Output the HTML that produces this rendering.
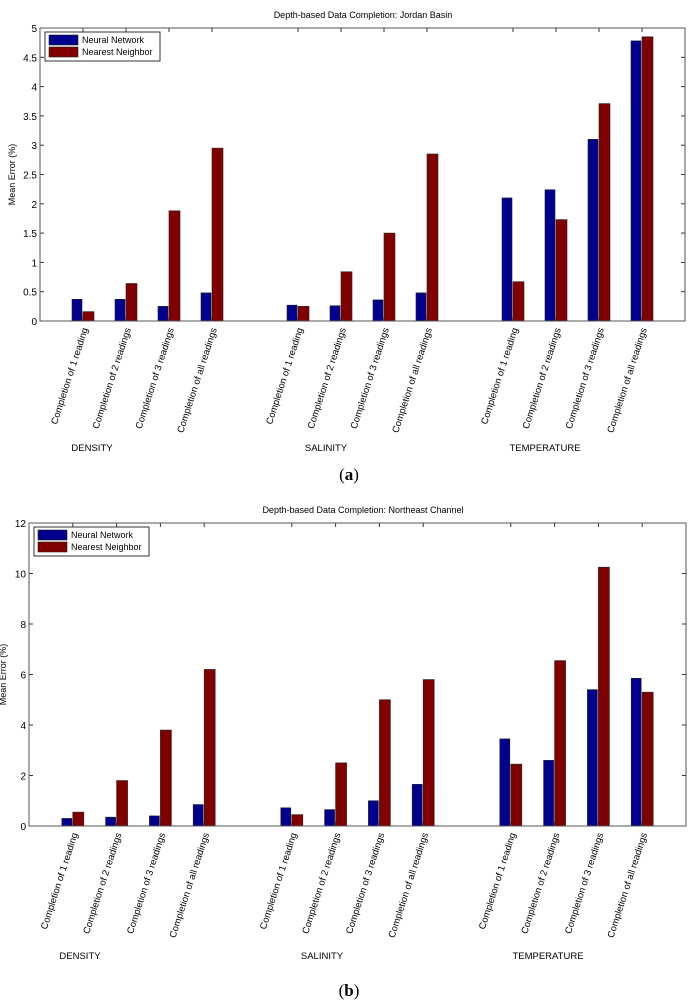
<!DOCTYPE html>
<html><head><meta charset="utf-8"><style>body{margin:0;background:#fff}svg{display:block}text{font-family:"Liberation Sans",sans-serif;fill:#000}</style></head>
<body>
<svg id="s" width="698" height="1000"></svg>
<script>
const categories=["Completion of 1 reading","Completion of 2 readings","Completion of 3 readings","Completion of all readings"];
const groups=["DENSITY","SALINITY","TEMPERATURE"];
const aNeural=[0.37,0.37,0.25,0.48,0.27,0.26,0.36,0.48,2.1,2.24,3.1,4.78];
const aNearest=[0.16,0.64,1.88,2.95,0.25,0.84,1.5,2.85,0.67,1.73,3.71,4.85];
const aTicks=[0,0.5,1,1.5,2,2.5,3,3.5,4,4.5,5];
const bNeural=[0.3,0.35,0.4,0.85,0.72,0.65,1.0,1.65,3.45,2.6,5.4,5.85];
const bNearest=[0.55,1.8,3.8,6.2,0.45,2.5,5.0,5.8,2.45,6.55,10.25,5.3];
const bTicks=[0,2,4,6,8,10,12];
const NS="http://www.w3.org/2000/svg",svg=document.getElementById('s');
function el(t,a,p){const e=document.createElementNS(NS,t);for(const k in a)e.setAttribute(k,a[k]);(p||svg).appendChild(e);return e;}
function chart(c){
 const g=el('g',{});
 
 
 const X=i=>c.x0+(c.x1-c.x0)*i/15, Y=v=>c.y1-(c.y1-c.y0)*v/c.max;
 const t=el('text',{x:363,y:c.y0-10,'font-size':9,'text-anchor':'middle'},g);t.textContent=c.title;
 
 const yt=el('text',{transform:`translate(${c.yl},${(c.y0+c.y1)/2}) rotate(-90)`,'font-size':9,'text-anchor':'middle'},g);yt.textContent="Mean Error (%)";
 
 c.ticks.forEach(v=>{const y=Y(v);
  el('line',{x1:c.x0,x2:c.x0+4,y1:y,y2:y,stroke:'#333'},g);el('line',{x1:c.x1,x2:c.x1-4,y1:y,y2:y,stroke:'#333'},g);
  const l=el('text',{x:c.x0-3,y:y+4,'font-size':10,'text-anchor':'end'},g);l.textContent=v;
  });
 for(let k=0;k<12;k++){const idx=Math.floor(k/4)*5+(k%4)+1,cx=X(idx);
  el('line',{x1:cx,x2:cx,y1:c.y0,y2:c.y0+4,stroke:'#333'},g);el('line',{x1:cx,x2:cx,y1:c.y1,y2:c.y1-4,stroke:'#333'},g);
  const b1=el('rect',{x:cx-11,y:Y(c.nn[k]),width:10,height:Y(0)-Y(c.nn[k]),fill:'#00008f',stroke:'#222','stroke-width':0.6},g);
  
  const b2=el('rect',{x:cx,y:Y(c.nb[k]),width:11,height:Y(0)-Y(c.nb[k]),fill:'#800000',stroke:'#222','stroke-width':0.6},g);
  
  const xl=el('text',{transform:`translate(${cx+5},${c.y1+8}) rotate(-72)`,'font-size':9.5,'text-anchor':'end'},g);xl.textContent=categories[k%4];
  }
 el('rect',{x:c.x0,y:c.y0,width:c.x1-c.x0,height:c.y1-c.y0,fill:'none',stroke:'#555'},g);
 groups.forEach((n,i)=>{const gl=el('text',{x:c.gx[i],y:c.gy,'font-size':9.5,'text-anchor':'middle'},g);gl.textContent=n;
  });
 const lg=el('g',{},g);
 el('rect',{x:c.x0+5,y:c.y0+4,width:115,height:29,fill:'#fff',stroke:'#333'},lg);
 [['Neural Network','#00008f'],['Nearest Neighbor','#800000']].forEach((e,i)=>{
  el('rect',{x:c.x0+9,y:c.y0+7+i*12,width:29,height:10,fill:e[1],stroke:'#222','stroke-width':0.6},lg);
  const lt=el('text',{x:c.x0+42,y:c.y0+15+i*12,'font-size':9},lg);lt.textContent=e[0];
  });
 const cap=el('text',{x:349,y:c.capy,'font-size':17,'text-anchor':'middle',style:'font-family:"Liberation Serif",serif'},g);
 cap.innerHTML='(<tspan font-weight="bold">'+c.cap+'</tspan>)';
 
}
chart({name:'chart-a',x0:40,x1:685,y0:28,y1:321,max:5,ticks:aTicks,nn:aNeural,nb:aNearest,title:'Depth-based Data Completion: Jordan Basin',yl:15,gx:[92,326,545],gy:451,capy:480,cap:'a'});
chart({name:'chart-b',x0:29,x1:686,y0:523,y1:826,max:12,ticks:bTicks,nn:bNeural,nb:bNearest,title:'Depth-based Data Completion: Northeast Channel',yl:6,gx:[80,322,548],gy:959,capy:996,cap:'b'});
</script>
</body></html>
